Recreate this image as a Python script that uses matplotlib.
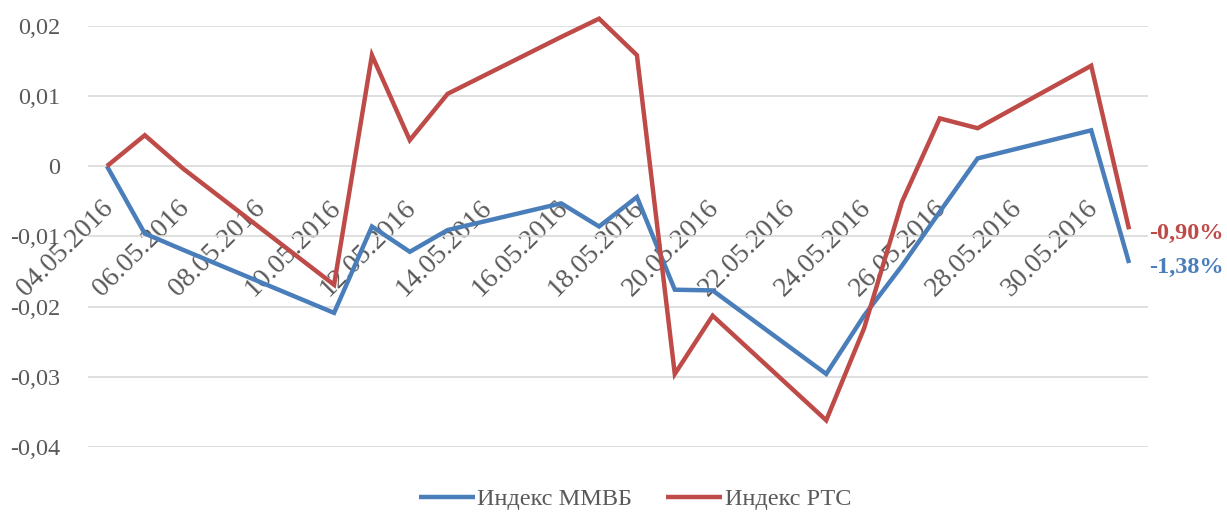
import matplotlib
matplotlib.use('Agg')
import matplotlib.pyplot as plt
import matplotlib.transforms as mtransforms
import numpy as np
import pandas as pd

# categories: every calendar day, values only on trading days
dates = pd.date_range('2016-05-04', '2016-05-31').strftime('%d.%m.%Y').tolist()

micex = [0.0, -0.0096, -0.0119, None, None, None, -0.0209, -0.0086, -0.0122, -0.0091,
         None, None, -0.0053, -0.0086, -0.0044, -0.0176, -0.0177, None, None, -0.0296,
         -0.0213, -0.0142, -0.0065, 0.0011, None, None, 0.0051, -0.0138]
rts = [0.0, 0.0044, -0.0003, None, None, None, -0.0169, 0.0158, 0.0037, 0.0103,
       None, None, 0.0184, 0.0210, 0.0158, -0.0296, -0.0213, None, None, -0.0362,
       -0.0231, -0.0051, 0.0068, 0.0054, None, None, 0.0143, -0.0090]

series_names = ['Индекс ММВБ', 'Индекс РТС']
end_labels = ['-1,38%', '-0,90%']
colors = ['#4A7EBB', '#BE4B48']
yticks = [-0.04, -0.03, -0.02, -0.01, 0, 0.01, 0.02]

plt.rcParams['font.family'] = ['Liberation Serif', 'DejaVu Serif']
text_color = '#595959'

fig = plt.figure(figsize=(12.27, 5.12), dpi=100)
ax = fig.add_axes([88 / 1227, 1 - 447 / 512, (1148 - 88) / 1227, (447 - 25.7) / 512])

x = np.arange(len(dates))
for vals, name, col, lab in zip([micex, rts], series_names, colors, end_labels):
    v = np.array([np.nan if a is None else a for a in vals], dtype=float)
    m = ~np.isnan(v)
    ax.plot(x[m], v[m], color=col, lw=3.2, label=name, clip_on=False,
            solid_joinstyle='miter', solid_capstyle='butt')
    ax.annotate(lab, xy=(x[m][-1], v[m][-1]), xytext=(20, -4), textcoords='offset pixels',
                color=col, fontsize=17.5, fontweight='bold', va='center', ha='left')

ax.set_xlim(-0.5, len(dates) - 0.5)
ax.set_ylim(-0.04, 0.02)
ax.set_yticks(yticks)
ax.set_yticklabels([('%g' % t).replace('.', ',') for t in yticks])
ax.yaxis.grid(True, color='#D9D9D9', lw=1.2)
ax.set_axisbelow(True)

for s in ['top', 'right', 'left']:
    ax.spines[s].set_visible(False)
ax.spines['bottom'].set_position(('data', 0))
ax.spines['bottom'].set_color('none')

ax.set_xticks(x[::2])
ax.set_xticklabels(dates[::2])
ax.tick_params(axis='x', length=0, pad=21, labelsize=20, labelcolor=text_color)
ax.tick_params(axis='y', length=0, pad=20, labelsize=17.5, labelcolor=text_color)
shift = mtransforms.ScaledTranslation(-6 / 100, 0, fig.dpi_scale_trans)
for t in ax.get_xticklabels():
    t.set_rotation(45)
    t.set_ha('right')
    t.set_va('top')
    t.set_rotation_mode('anchor')
    t.set_transform(t.get_transform() + shift)

leg = fig.legend(loc='center', bbox_to_anchor=(635 / 1227, 1 - 499 / 512), ncol=2, frameon=False,
                 fontsize=17.5, handlelength=2.3, columnspacing=1.4, handletextpad=0.1)
for t in leg.get_texts():
    t.set_color(text_color)

fig.savefig('out.png', dpi=100)
